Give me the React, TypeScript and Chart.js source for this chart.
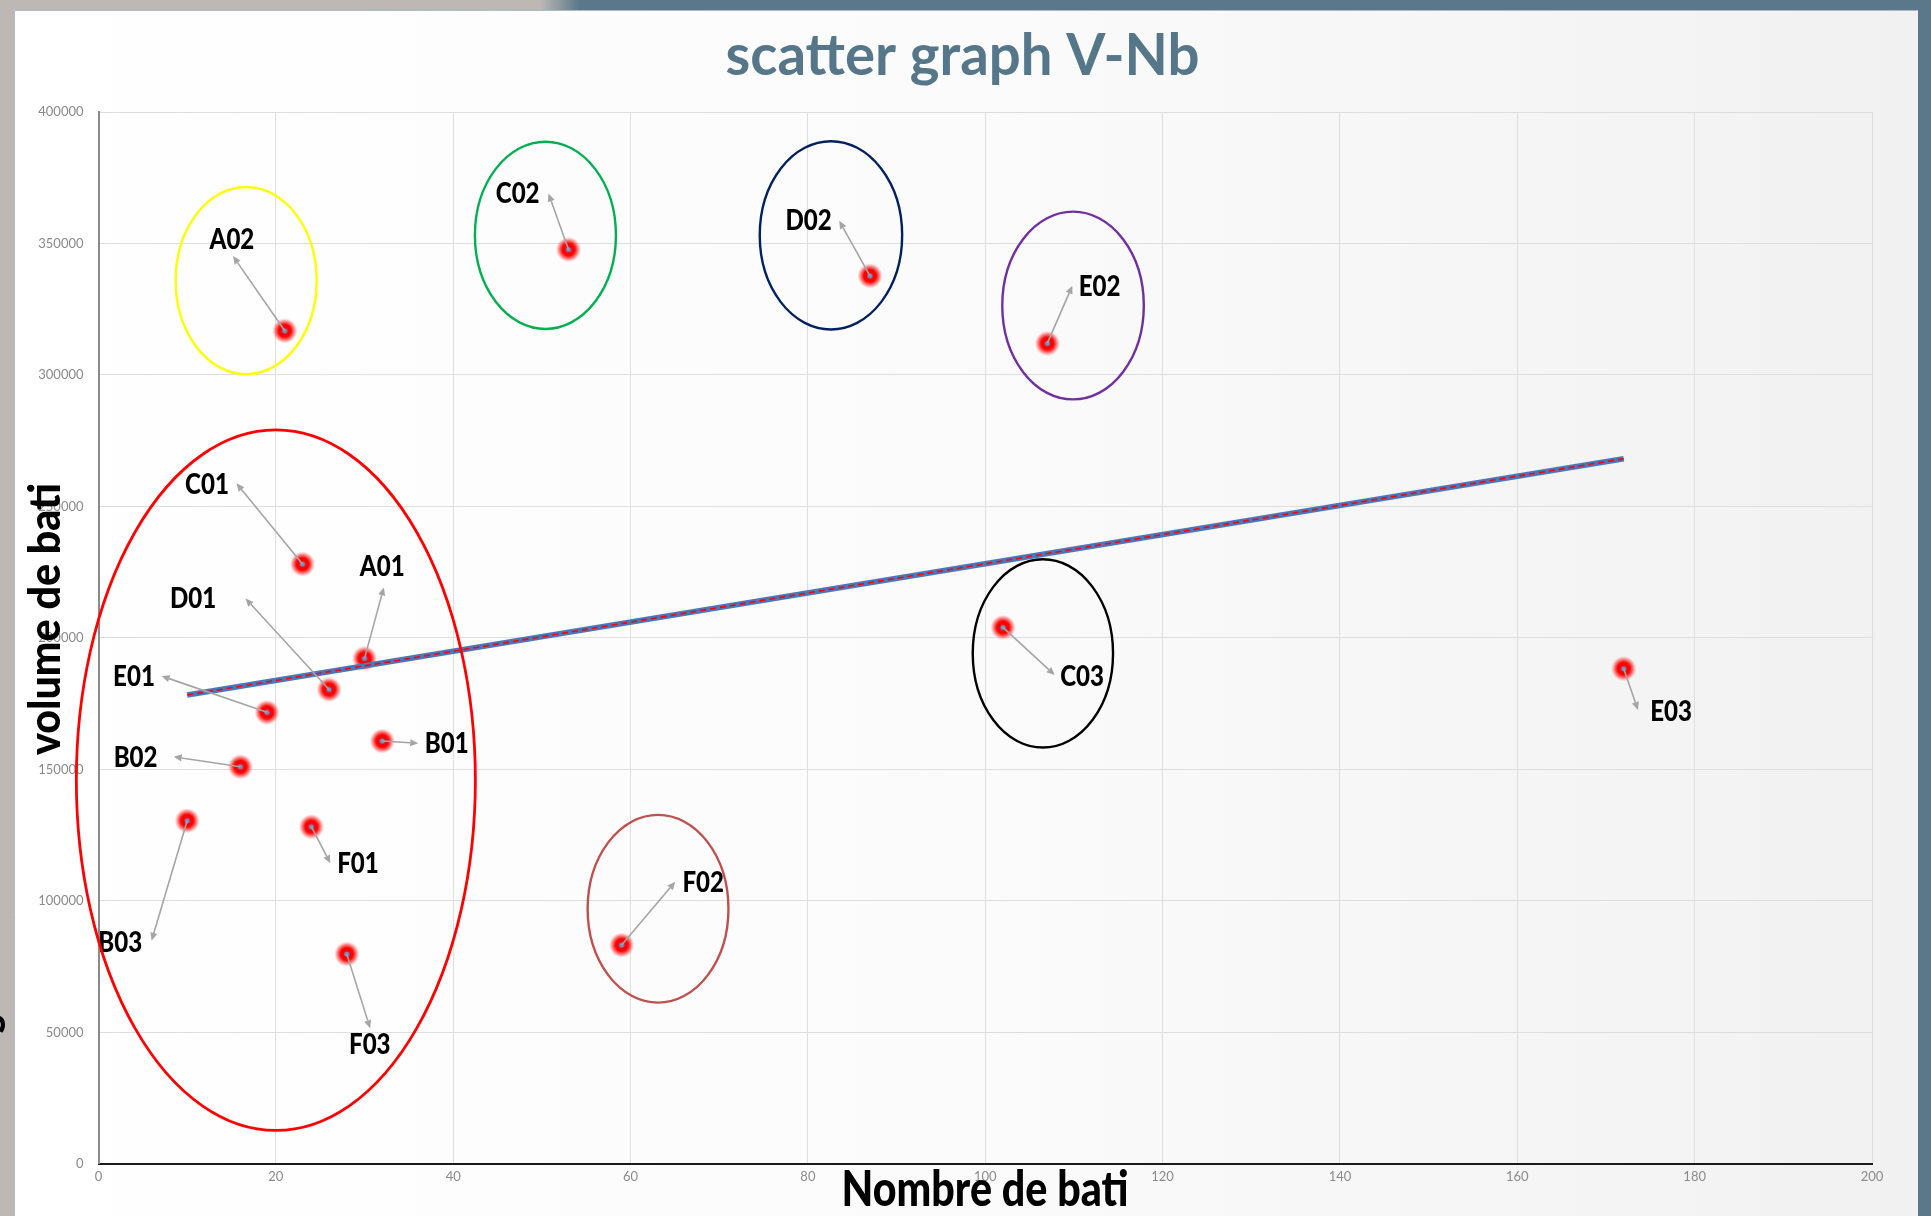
import React, { useEffect, useRef } from 'react';
import { Chart, registerables } from 'chart.js';

Chart.register(...registerables);

const W = 1931;
const H = 1216;

// ---- data ----
const siteLabels = ['A02', 'C02', 'D02', 'E02', 'C01', 'A01', 'D01', 'E01', 'B01', 'B02', 'B03', 'F01', 'F03', 'F02', 'C03', 'E03'];
const nombreDeBati = [21, 53, 87, 107, 23, 30, 26, 19, 32, 16, 10, 24, 28, 59, 102, 172];
const volumeDeBati = [316800, 347700, 337700, 312000, 228100, 192200, 180400, 171700, 160800, 151000, 130500, 128200, 79800, 83200, 204000, 188300];

const xTickValues = [0, 20, 40, 60, 80, 100, 120, 140, 160, 180, 200];
const yTickValues = [0, 50000, 100000, 150000, 200000, 250000, 300000, 350000, 400000];

const chartTitle = 'scatter graph V-Nb';
const xTitle = 'Nombre de bati';
const yTitle = 'volume de bati';

// ---- annotation layout (pixel offsets from each point) ----
const labelDx = [-52.8, -50.8, -61.4, 52.3, -95.5, 17.7, -136, -133, 64.4, -104.8, -67, 46.6, 23, 81.5, 79.1, 47.3];
const labelDy = [-92.4, -56.3, -55.7, -57.5, -79.8, -92.5, -91.8, -36.5, 1.5, -9.5, 121, 36.3, 89.7, -63.3, 48.2, 42];
const tipDx = [-51.7, -20, -30.7, 25, -66, 19.3, -83.6, -105.4, 36, -66.7, -35.6, 19, 23.3, 53.6, 51.7, 14.3];
const tipDy = [-74.7, -56, -55, -57.6, -80.7, -71, -91, -36.3, 2.3, -10, 120, 36.6, 74.3, -63.3, 47.7, 41.3];

// ---- group ellipses (data units) ----
const groupCx = [16.65, 50.4, 82.6, 109.9, 20.0, 63.1, 106.5];
const groupCy = [335900, 353100, 353100, 326400, 145900, 97000, 194100];
const groupRx = [7.95, 7.95, 8.03, 7.98, 22.5, 7.94, 7.91];
const groupRy = [35600, 35600, 35800, 35700, 133200, 35700, 35800];
const groupColors = ['#ffff00', '#00b050', '#002060', '#7030a0', '#ff0000', '#c0504d', '#000000'];
const groupWidths = [2.4, 2.4, 2.4, 2.4, 2.8, 2.4, 2.4];

function linearFit(xs: number[], ys: number[]) {
  const n = xs.length;
  const mx = xs.reduce((a, b) => a + b, 0) / n;
  const my = ys.reduce((a, b) => a + b, 0) / n;
  let sxy = 0;
  let sxx = 0;
  for (let i = 0; i < n; i++) {
    sxy += (xs[i] - mx) * (ys[i] - my);
    sxx += (xs[i] - mx) * (xs[i] - mx);
  }
  const b = sxy / sxx;
  return { a: my - b * mx, b };
}

function makeMarker() {
  const c = document.createElement('canvas');
  c.width = 28;
  c.height = 28;
  const g = c.getContext('2d')!;
  const grad = g.createRadialGradient(14, 14, 0, 14, 14, 12.5);
  grad.addColorStop(0, 'rgba(255,0,0,1)');
  grad.addColorStop(0.5, 'rgba(255,0,0,1)');
  grad.addColorStop(0.75, 'rgba(255,30,30,0.55)');
  grad.addColorStop(1, 'rgba(255,80,80,0)');
  g.fillStyle = grad;
  g.beginPath();
  g.arc(14, 14, 12.5, 0, Math.PI * 2);
  g.fill();
  g.fillStyle = '#6f8fc6';
  g.beginPath();
  g.arc(14, 14, 2.6, 0, Math.PI * 2);
  g.fill();
  return c;
}

const bgPlugin = {
  id: 'slideBackground',
  beforeDraw(chart: any) {
    const ctx = chart.ctx as CanvasRenderingContext2D;
    ctx.save();
    ctx.fillStyle = '#bdb8b4';
    ctx.fillRect(0, 0, W, H);
    const tg = ctx.createLinearGradient(540, 0, 580, 0);
    tg.addColorStop(0, '#bdb8b4');
    tg.addColorStop(1, '#5a7889');
    ctx.fillStyle = tg;
    ctx.fillRect(540, 0, W - 540, 12);
    ctx.fillStyle = '#5a7889';
    ctx.fillRect(1916, 0, W - 1916, H);
    const pg = ctx.createLinearGradient(14, 0, 1918, 0);
    pg.addColorStop(0, '#ffffff');
    pg.addColorStop(0.5, '#fbfbfb');
    pg.addColorStop(1, '#f1f1f1');
    ctx.fillStyle = pg;
    ctx.fillRect(14, 10, 1918 - 14, H - 10);
    ctx.strokeStyle = '#a9bcc8';
    ctx.lineWidth = 1;
    ctx.beginPath();
    ctx.moveTo(14.5, H);
    ctx.lineTo(14.5, 10.5);
    ctx.lineTo(1917.5, 10.5);
    ctx.stroke();
    // clipped fragment of rotated text at the left edge
    ctx.fillStyle = '#000';
    ctx.font = '900 44px Lato';
    ctx.translate(5, 1024);
    ctx.rotate(-Math.PI / 2);
    ctx.textAlign = 'center';
    ctx.textBaseline = 'alphabetic';
    ctx.fillText('s', 0, 0);
    ctx.restore();
  },
};

const annotationPlugin = {
  id: 'annotations',
  afterDatasetsDraw(chart: any) {
    const ctx = chart.ctx as CanvasRenderingContext2D;
    const xs = chart.scales.x;
    const ys = chart.scales.y;
    ctx.save();
    // leader lines + labels
    for (let i = 0; i < siteLabels.length; i++) {
      const px = xs.getPixelForValue(nombreDeBati[i]);
      const py = ys.getPixelForValue(volumeDeBati[i]);
      const tx = px + tipDx[i];
      const ty = py + tipDy[i];
      const ang = Math.atan2(ty - py, tx - px);
      const headLen = 8;
      const headW = 3.6;
      const bx = tx - headLen * Math.cos(ang);
      const by = ty - headLen * Math.sin(ang);
      ctx.strokeStyle = '#a5a5a5';
      ctx.fillStyle = '#a5a5a5';
      ctx.lineWidth = 1.6;
      ctx.beginPath();
      ctx.moveTo(px, py);
      ctx.lineTo(bx, by);
      ctx.stroke();
      ctx.beginPath();
      ctx.moveTo(tx, ty);
      ctx.lineTo(bx + headW * Math.sin(ang), by - headW * Math.cos(ang));
      ctx.lineTo(bx - headW * Math.sin(ang), by + headW * Math.cos(ang));
      ctx.closePath();
      ctx.fill();

      const lx = px + labelDx[i];
      const ly = py + labelDy[i];
      ctx.save();
      ctx.translate(lx, ly + 10.2);
      ctx.scale(0.86, 1);
      ctx.fillStyle = '#000';
      ctx.font = '900 28px Lato';
      ctx.textAlign = 'center';
      ctx.textBaseline = 'alphabetic';
      ctx.fillText(siteLabels[i], 0, 0);
      ctx.restore();
    }
    // group ellipses
    for (let i = 0; i < groupCx.length; i++) {
      const cx = xs.getPixelForValue(groupCx[i]);
      const cy = ys.getPixelForValue(groupCy[i]);
      const rx = Math.abs(xs.getPixelForValue(groupCx[i] + groupRx[i]) - cx);
      const ry = Math.abs(ys.getPixelForValue(groupCy[i] + groupRy[i]) - cy);
      ctx.strokeStyle = groupColors[i];
      ctx.lineWidth = groupWidths[i];
      ctx.beginPath();
      ctx.ellipse(cx, cy, rx, ry, 0, 0, Math.PI * 2);
      ctx.stroke();
    }
    ctx.restore();
  },
  afterDraw(chart: any) {
    const ctx = chart.ctx as CanvasRenderingContext2D;
    ctx.save();
    ctx.textAlign = 'center';
    ctx.textBaseline = 'alphabetic';
    // chart title
    ctx.fillStyle = '#557789';
    ctx.font = 'bold 58px Lato';
    ctx.fillText(chartTitle, 962.5, 75, 474);
    // x axis title
    ctx.fillStyle = '#000';
    ctx.font = '900 50px Lato';
    ctx.fillText(xTitle, 985, 1206, 287);
    // y axis title
    ctx.translate(60, 619);
    ctx.rotate(-Math.PI / 2);
    ctx.font = '900 44px Lato';
    ctx.fillText(yTitle, 0, 0, 272);
    ctx.restore();
  },
};

export default function App() {
  const canvasRef = useRef<HTMLCanvasElement | null>(null);

  useEffect(() => {
    const canvas = canvasRef.current;
    if (!canvas) return;
    const fit = linearFit(nombreDeBati, volumeDeBati);
    const xMin = Math.min(...nombreDeBati);
    const xMax = Math.max(...nombreDeBati);
    const trend = [
      { x: xMin, y: fit.a + fit.b * xMin },
      { x: xMax, y: fit.a + fit.b * xMax },
    ];
    const points = nombreDeBati.map((x, i) => ({ x, y: volumeDeBati[i] }));
    const marker = makeMarker();

    const chart = new Chart(canvas, {
      type: 'scatter',
      data: {
        datasets: [
          {
            type: 'line',
            label: 'trend dash',
            data: trend,
            borderColor: '#ff0000',
            borderWidth: 1.6,
            borderDash: [6, 4],
            pointRadius: 0,
            fill: false,
          } as any,
          {
            type: 'line',
            label: 'Linéaire',
            data: trend,
            borderColor: '#4a77bb',
            borderWidth: 5.5,
            pointRadius: 0,
            fill: false,
          } as any,
          {
            label: 'volume',
            data: points,
            pointStyle: marker as any,
            pointRadius: 12,
            pointHoverRadius: 12,
            backgroundColor: '#ff0000',
            borderColor: '#ff0000',
          },
        ],
      },
      options: {
        responsive: false,
        animation: false,
        devicePixelRatio: 1,
        events: [],
        layout: { padding: { left: 0, right: 59, top: 112, bottom: 0 } },
        plugins: {
          legend: { display: false },
          tooltip: { enabled: false },
          title: { display: false },
        },
        scales: {
          x: {
            type: 'linear',
            min: 0,
            max: 200,
            afterBuildTicks: (s: any) => {
              s.ticks = xTickValues.map((v) => ({ value: v }));
            },
            afterFit: (s: any) => {
              s.height = 52.2;
            },
            grid: { color: '#dedede', lineWidth: 1, drawTicks: false },
            border: { color: '#1a1a1a', width: 2 },
            ticks: {
              padding: 5,
              color: '#8a8a8a',
              font: { family: 'Lato', size: 13 },
              maxRotation: 0,
              autoSkip: false,
              callback: (v: any) => String(v),
            },
          },
          y: {
            type: 'linear',
            min: 0,
            max: 400000,
            afterBuildTicks: (s: any) => {
              s.ticks = yTickValues.map((v) => ({ value: v }));
            },
            afterFit: (s: any) => {
              s.width = 98.5;
            },
            grid: { color: '#dedede', lineWidth: 1, drawTicks: false },
            border: { color: '#8a8a8a', width: 2 },
            ticks: {
              padding: 15,
              color: '#8a8a8a',
              font: { family: 'Lato', size: 13 },
              autoSkip: false,
              callback: (v: any) => String(v),
            },
          },
        },
      },
      plugins: [bgPlugin, annotationPlugin],
    });
    return () => chart.destroy();
  }, []);

  return (
    <div style={{ position: 'fixed', left: 0, top: 0, width: W, height: H }}>
      <canvas ref={canvasRef} width={W} height={H} style={{ display: 'block', width: W, height: H }} />
    </div>
  );
}
